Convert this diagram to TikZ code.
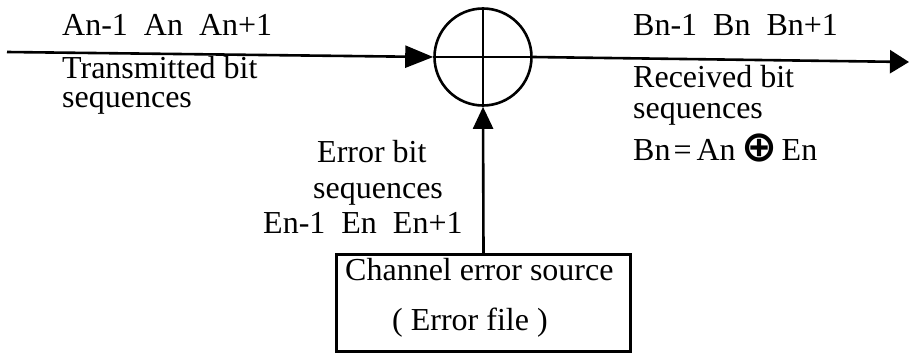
\documentclass[tikz,border=0pt]{standalone}
\usepackage{fontspec}
\setmainfont{Liberation Serif}
\newfontfamily\symfont{DejaVu Sans}
\usetikzlibrary{arrows.meta}

% heavy circled plus for the sum formula
\newcommand{\bigxor}{\raisebox{-1pt}{\symfont\bfseries\fontsize{43}{43}\selectfont ⊕}}

\begin{document}
\begin{tikzpicture}[x=1pt,y=-1pt,
  wire/.style={line width=2.6pt},
  tipin/.style={-{Triangle[length=28pt,width=22pt]}},
  tipout/.style={-{Triangle[length=19pt,width=23pt]}},
  tipup/.style={-{Triangle[length=22pt,width=20pt]}},
  lbl/.style={anchor=base west, inner sep=0pt, font=\fontsize{32}{36}\selectfont},
  xorgate/.style={circle, draw, line width=2.6pt, minimum size=97pt, inner sep=0pt},
  srcbox/.style={draw, line width=2.6pt, minimum width=294pt, minimum height=97pt, inner sep=0pt}]
\useasboundingbox (0,0) rectangle (910,356);

% modulo-2 adder and the error source feeding it
\node[xorgate] (xor) at (483,57) {};
\node[srcbox] (src) at (483.5,303) {};
\coordinate (inp) at (7,52);
\coordinate (outp) at (909,62);

% cross inside the adder
\draw[wire] (xor.north) -- (xor.south);
\draw[wire] (xor.west) -- (xor.east);

% signal paths
\draw[wire,tipin] (inp) -- (xor.west);
\draw[wire,tipout] (xor.east) -- (outp);
\draw[wire,tipup] (src.north) -- (xor.south);

% input side
\node[lbl] (ta) at (62,35) {An-1~~An~~An+1};
\node[lbl] (tt1) at (62,78) {Transmitted bit};
\node[lbl] (tt2) at (62,107) {sequences};

% output side
\node[lbl] (tb) at (633,35) {Bn-1~~Bn~~Bn+1};
\node[lbl] (tr1) at (633,87) {Received bit};
\node[lbl] (tr2) at (633,118) {sequences};
\node[lbl] (teq) at (633,160) {Bn\hspace{3pt}=\hspace{5pt}An\hspace{6pt}\bigxor\hspace{4pt}En};

% error path
\node[lbl] (te1) at (317,162) {Error bit};
\node[lbl] (te2) at (313,198) {sequences};
\node[lbl] (te3) at (263,233) {En-1~~En~~En+1};

% text of the source box
\node[lbl] (tc1) at (345,280) {Channel error source};
\node[lbl] (tc2) at (392,330) {( Error file )};
\end{tikzpicture}
\end{document}
